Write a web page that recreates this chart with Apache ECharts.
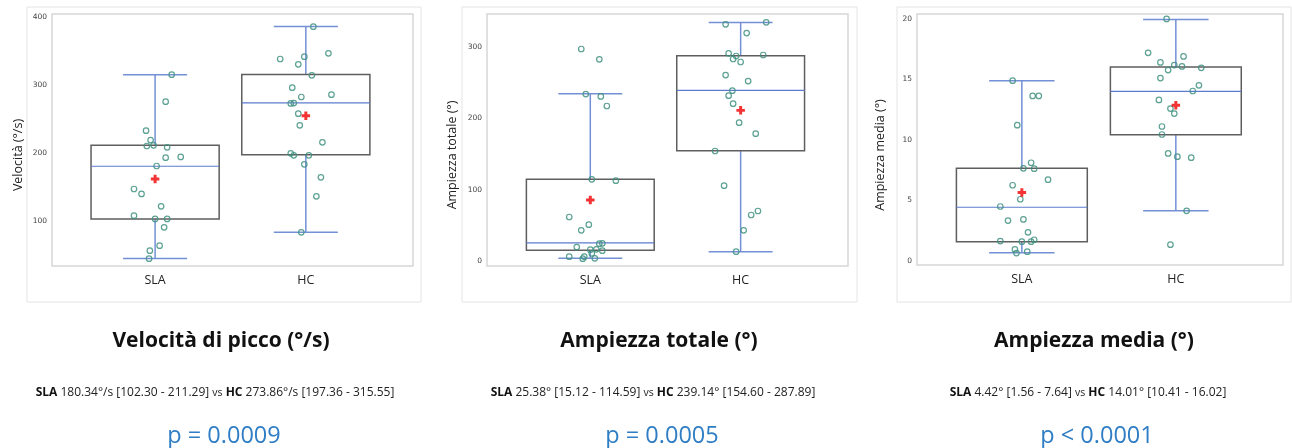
<!DOCTYPE html>
<html>
<head>
<meta charset="utf-8">
<title>SLA vs HC</title>
<script src="https://cdn.jsdelivr.net/npm/echarts@6/dist/echarts.min.js"></script>
<style>
  html, body { margin: 0; padding: 0; background: #fff; }
  #chart { width: 1292px; height: 448px; }
</style>
</head>
<body>
<div id="chart"></div>
<script>
// groups on the x axis
const groups = ['SLA', 'HC'];

// box stats per group: [whisker low, Q1, median, Q3, whisker high]
const velSLABox = [44.2, 102.30, 180.34, 211.29, 315.4];
const velHCBox = [82.9, 197.36, 273.86, 315.55, 386.5];
const velMeans = [161.6, 255.0];

const totSLABox = [3.7, 15.12, 25.38, 114.59, 234.4];
const totHCBox = [13.1, 154.60, 239.14, 287.89, 334.4];
const totMeans = [85.5, 211.2];

const medSLABox = [0.66, 1.56, 4.42, 7.64, 14.89];
const medHCBox = [4.12, 10.41, 14.01, 16.02, 19.95];
const medMeans = [5.63, 12.86];

// single subjects, [jittered group position, value]
const velSLAPts = [[1.11, 315.4], [1.07, 275.6], [0.94, 232.8], [0.97, 219.0], [0.945, 210.2],
  [0.99, 211.2], [1.08, 208.2], [1.07, 193.0], [1.17, 194.0], [1.01, 180.7], [0.86, 146.7],
  [0.91, 139.4], [1.04, 121.2], [0.86, 107.4], [1.0, 102.5], [1.08, 102.5], [1.06, 90.2],
  [1.03, 63.1], [0.965, 55.7], [0.96, 43.9]];
const velHCPts = [[2.05, 386.3], [2.15, 346.9], [1.99, 342.0], [1.83, 338.6], [1.95, 330.7],
  [2.04, 314.5], [1.91, 296.3], [1.97, 282.5], [2.17, 285.9], [1.90, 273.1], [1.92, 273.6],
  [1.95, 257.9], [1.96, 240.7], [2.11, 215.6], [1.90, 199.4], [1.92, 196.4], [2.02, 196.4],
  [1.99, 183.1], [2.10, 163.9], [2.07, 135.9], [1.97, 82.8]];

const totSLAPts = [[0.94, 297.2], [1.06, 282.7], [0.97, 234.1], [1.07, 230.8], [1.11, 217.3],
  [1.01, 114.5], [1.17, 112.6], [0.86, 61.7], [0.99, 50.9], [0.94, 43.0], [0.91, 19.6],
  [1.06, 24.3], [1.08, 24.8], [1.0, 15.9], [1.04, 16.4], [1.08, 14.5], [1.01, 10.7],
  [0.86, 6.1], [0.96, 6.1], [0.95, 3.3], [1.03, 3.7]];
const totHCPts = [[2.17, 334.6], [1.90, 331.8], [2.04, 319.6], [1.92, 291.1], [1.97, 287.4],
  [2.15, 288.8], [1.95, 283.2], [2.0, 279.0], [1.90, 260.7], [2.05, 252.3], [1.945, 238.8],
  [1.92, 231.8], [1.95, 220.6], [1.99, 193.9], [2.10, 178.5], [1.83, 154.2], [1.89, 105.6],
  [2.115, 70.1], [2.07, 64.5], [2.02, 43.0], [1.97, 13.1]];

const medSLAPts = [[0.94, 14.89], [1.07, 13.63], [1.11, 13.63], [0.97, 11.21], [1.06, 8.10],
  [1.01, 7.64], [1.08, 7.61], [1.17, 6.70], [0.94, 6.24], [0.99, 5.08], [0.86, 4.48],
  [0.91, 3.32], [1.01, 3.41], [1.04, 2.34], [0.86, 1.62], [1.0, 1.57], [1.06, 1.57],
  [1.08, 1.73], [0.955, 0.93], [0.965, 0.63], [1.035, 0.74]];
const medHCPts = [[1.94, 20.0], [1.82, 17.2], [2.05, 16.9], [1.90, 16.4], [1.99, 16.18],
  [2.04, 16.07], [2.165, 15.96], [1.95, 15.77], [1.90, 15.11], [2.15, 14.51], [2.11, 14.04],
  [1.89, 13.30], [1.965, 12.58], [1.99, 12.17], [1.91, 11.10], [1.91, 10.44], [1.95, 8.87],
  [2.01, 8.60], [2.10, 8.52], [2.07, 4.12], [1.965, 1.32]];

// y tick labels per panel
const velTicks = [100, 200, 300, 400];
const totTicks = [0, 100, 200, 300];
const medTicks = [0, 5, 10, 15, 20];

const yNames = ['Velocità (°/s)', 'Ampiezza totale (°)', 'Ampiezza media (°)'];
const titles = ['Velocità di picco (°/s)', 'Ampiezza totale (°)', 'Ampiezza media (°)'];
const summaries = [
  '{b|SLA} 180.34°/s [102.30 - 211.29] {s|vs} {b|HC} 273.86°/s [197.36 - 315.55]',
  '{b|SLA} 25.38° [15.12 - 114.59] {s|vs} {b|HC} 239.14° [154.60 - 287.89]',
  '{b|SLA} 4.42° [1.56 - 7.64] {s|vs} {b|HC} 14.01° [10.41 - 16.02]'
];
const pValues = ['p = 0.0009', 'p = 0.0005', 'p < 0.0001'];

const FONT = 'Open Sans';
const WHISKER = '#7390d6';
const MEDIAN = '#5c7bcf';
const BOX = '#5e5e5e';
const DOT = '#3f9080';

// layout of the three panels
const panels = [
  { grid: [52, 14, 361, 252], xr: [0.316, 2.711], yr: [33.1, 405], frame: [27, 7, 394, 295], mid: 221,
    box: [velSLABox, velHCBox], means: velMeans, pts: [velSLAPts, velHCPts], ticks: velTicks, nameX: 18 },
  { grid: [487, 14, 361, 252], xr: [0.313, 2.714], yr: [-7.0, 346.3], frame: [462, 7, 395, 295], mid: 659,
    box: [totSLABox, totHCBox], means: totMeans, pts: [totSLAPts, totHCPts], ticks: totTicks, nameX: 452 },
  { grid: [917, 14, 366, 251], xr: [0.319, 2.696], yr: [-0.36, 20.41], frame: [897, 7, 394, 295], mid: 1094,
    box: [medSLABox, medHCBox], means: medMeans, pts: [medSLAPts, medHCPts], ticks: medTicks, nameX: 880 }
];

function renderBox(params, api) {
  const x = api.value(0);
  const lo = api.coord([x, api.value(1)]);
  const q1 = api.coord([x, api.value(2)]);
  const md = api.coord([x, api.value(3)]);
  const q3 = api.coord([x, api.value(4)]);
  const hi = api.coord([x, api.value(5)]);
  const bw = api.size([0.85, 0])[0];
  const cw = api.size([0.425, 0])[0];
  const cx = lo[0];
  const wl = { stroke: WHISKER, lineWidth: 1.5 };
  return {
    type: 'group',
    children: [
      { type: 'line', shape: { x1: cx, y1: hi[1], x2: cx, y2: q3[1] }, style: wl },
      { type: 'line', shape: { x1: cx, y1: q1[1], x2: cx, y2: lo[1] }, style: wl },
      { type: 'line', shape: { x1: cx - cw / 2, y1: hi[1], x2: cx + cw / 2, y2: hi[1] }, style: wl },
      { type: 'line', shape: { x1: cx - cw / 2, y1: lo[1], x2: cx + cw / 2, y2: lo[1] }, style: wl },
      { type: 'rect', shape: { x: cx - bw / 2, y: q3[1], width: bw, height: q1[1] - q3[1] },
        style: { fill: 'none', stroke: BOX, lineWidth: 1.5 } },
      { type: 'line', shape: { x1: cx - bw / 2, y1: md[1], x2: cx + bw / 2, y2: md[1] },
        style: { stroke: MEDIAN, lineWidth: 1.2 } }
    ]
  };
}

const grid = [], xAxis = [], yAxis = [], series = [], graphic = [];
const plus = 'path://M2.6,0H5.4V2.6H8V5.4H5.4V8H2.6V5.4H0V2.6H2.6Z';

panels.forEach(function (p, i) {
  grid.push({ left: p.grid[0], top: p.grid[1], width: p.grid[2], height: p.grid[3],
    show: true, borderColor: '#d6d6d6', borderWidth: 1.5, backgroundColor: '#fff' });
  xAxis.push({
    type: 'value', gridIndex: i, min: p.xr[0], max: p.xr[1],
    axisLine: { show: false }, axisTick: { show: false }, splitLine: { show: false },
    axisLabel: { customValues: [1, 2], formatter: function (v) { return groups[Math.round(v) - 1]; },
      margin: 8, fontSize: 12.5, color: '#222', fontFamily: FONT }
  });
  yAxis.push({
    type: 'value', gridIndex: i, min: p.yr[0], max: p.yr[1],
    axisLine: { show: false }, axisTick: { show: false }, splitLine: { show: false },
    axisLabel: { customValues: p.ticks, margin: 5, fontSize: 7.5, color: '#444', fontFamily: 'DejaVu Sans' }
  });
  series.push({
    type: 'custom', xAxisIndex: i, yAxisIndex: i, renderItem: renderBox, z: 2,
    data: [[1].concat(p.box[0]), [2].concat(p.box[1])]
  });
  p.pts.forEach(function (pts) {
    series.push({
      type: 'scatter', xAxisIndex: i, yAxisIndex: i, symbol: 'circle', symbolSize: 5.5, z: 3,
      itemStyle: { color: 'rgba(255,255,255,0)', borderColor: DOT, borderWidth: 1.2, opacity: 0.85 },
      data: pts
    });
  });
  series.push({
    type: 'scatter', xAxisIndex: i, yAxisIndex: i, symbol: plus, symbolSize: 8.5, z: 4,
    itemStyle: { color: '#f00000' },
    data: [[1, p.means[0]], [2, p.means[1]]]
  });

  graphic.push({ type: 'rect', z: -1, shape: { x: p.frame[0], y: p.frame[1], width: p.frame[2], height: p.frame[3] },
    style: { fill: 'none', stroke: '#e4e4e4', lineWidth: 1 } });
  graphic.push({ type: 'text', x: p.nameX, y: 155, rotation: Math.PI / 2,
    style: { text: yNames[i], fontSize: 12.5, fill: '#222', fontFamily: FONT, align: 'center', verticalAlign: 'middle' } });
  graphic.push({ type: 'text', x: p.mid, y: 341,
    style: { text: titles[i], fontSize: 21, fontWeight: 'bold', fill: '#111', fontFamily: FONT,
      align: 'center', verticalAlign: 'middle' } });
  graphic.push({ type: 'text', x: p.mid - 6, y: 393,
    style: { text: summaries[i], fontSize: 12, fill: '#222', fontFamily: FONT, align: 'center', verticalAlign: 'middle',
      rich: { b: { fontWeight: 'bold', fontSize: 12, fontFamily: FONT, fill: '#111' },
              s: { fontSize: 10.5, fontFamily: FONT, fill: '#222' } } } });
  graphic.push({ type: 'text', x: p.mid + 3, y: 436,
    style: { text: pValues[i], fontSize: 23.5, fill: '#2f7dc4', fontFamily: FONT, align: 'center', verticalAlign: 'middle' } });
});

const chart = echarts.init(document.getElementById('chart'), null, { renderer: 'canvas' });
chart.setOption({
  animation: false,
  backgroundColor: '#fff',
  grid: grid,
  xAxis: xAxis,
  yAxis: yAxis,
  series: series,
  graphic: graphic
});
</script>
</body>
</html>
